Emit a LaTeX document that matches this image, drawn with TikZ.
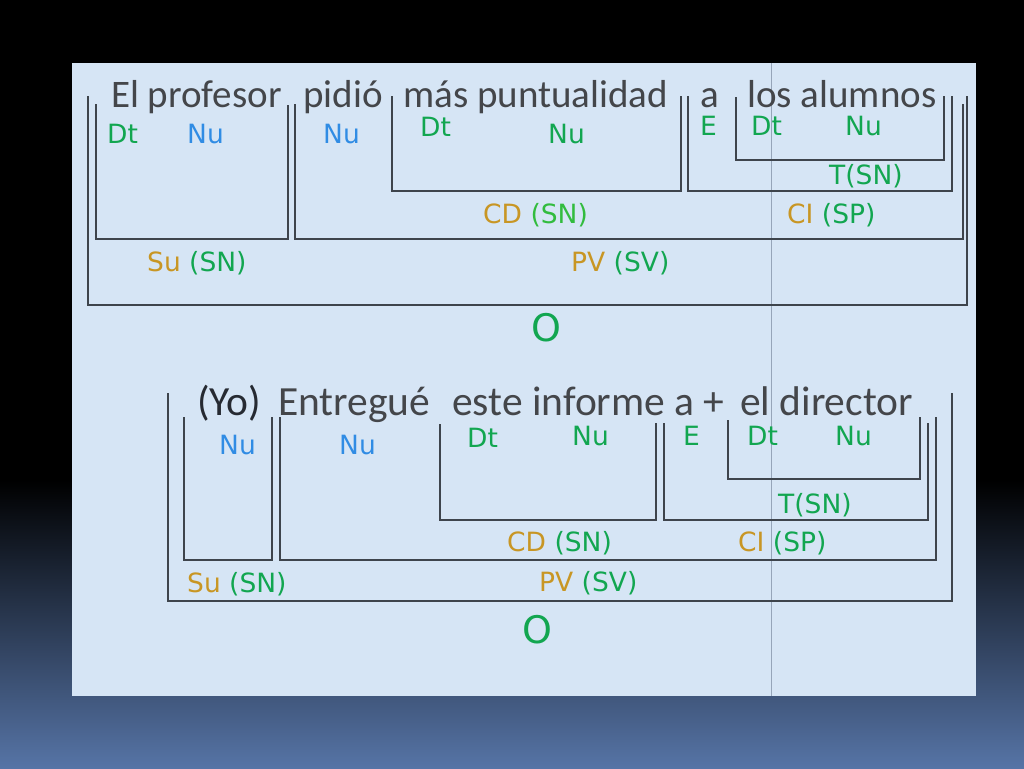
\documentclass[tikz,border=0pt]{standalone}
\usepackage{fontspec}
\setmainfont{Carlito}
\newfontfamily\labfont{DejaVu Sans}
\definecolor{bgblue}{RGB}{86,116,166}
\definecolor{panel}{RGB}{214,229,245}
\definecolor{seam}{RGB}{150,165,185}
\definecolor{brk}{RGB}{62,68,76}
\definecolor{txt}{RGB}{68,70,74}
\definecolor{yo}{RGB}{38,42,50}
\definecolor{lgreen}{RGB}{18,166,80}
\definecolor{lgreenb}{RGB}{50,188,62}
\definecolor{lblue}{RGB}{48,140,228}
\definecolor{lgold}{RGB}{200,150,36}
\tikzset{
  x=1pt,y=-1pt,
  brkline/.style={draw=brk,line width=1.6pt,line join=miter},
  word/.style={anchor=base west,inner sep=0pt,text=txt,font=\fontsize{39}{41}\selectfont},
  wordb/.style={anchor=base west,inner sep=0pt,text=txt,font=\fontsize{41.5}{43}\selectfont},
  flat/.style={text depth=0pt},
  lab/.style={anchor=base west,inner sep=0pt,font=\labfont\fontsize{26.5}{28}\selectfont},
  bigo/.style={anchor=base,inner sep=0pt,text=lgreen,font=\labfont\fontsize{38}{40}\selectfont}
}
\begin{document}
\begin{tikzpicture}
\useasboundingbox (0,0) rectangle (1024,768);
% background
\fill[black] (0,0) rectangle (1024,768);
\shade[top color=black,bottom color=bgblue] (0,480) rectangle (1024,768);
\fill[panel] (72,63) rectangle (976,696);
\draw[seam,line width=0.8pt] (771,63) -- (771,696);

% ===== top sentence =====
\node[word] (w1) at (111,107) {El profesor};
\node[word] (w2) at (303,107) {pidió};
\node[word] (w3) at (403,107) {más puntualidad};
\node[word,flat] (w4) at (700,107) {a};
\node[word,flat] (w5) at (747,107) {los alumnos};

\draw[brkline] (88,96) -- (88,305) -- (967,305) -- (967,96);
\draw[brkline] (96,104) -- (96,239) -- (288,239) -- (288,105);
\draw[brkline] (295,104) -- (295,239) -- (963,239) -- (963,104);
\draw[brkline] (392,96) -- (392,191) -- (681,191) -- (681,96);
\draw[brkline] (688,96) -- (688,191) -- (952,191) -- (952,96);
\draw[brkline] (736,97) -- (736,160) -- (944,160) -- (944,96);

\node[lab,text=lgreen] (a1) at (107,143) {Dt};
\node[lab,text=lblue]  (a2) at (187,143) {Nu};
\node[lab,text=lblue]  (a3) at (323,143) {Nu};
\node[lab,text=lgreen] (a4) at (420,136) {Dt};
\node[lab,text=lgreen] (a5) at (548,143) {Nu};
\node[lab,text=lgreen,text height=19pt] (a6) at (700,135) {E};
\node[lab,text=lgreen,text height=19pt] (a7) at (751,135) {Dt};
\node[lab,text=lgreen,text height=19pt] (a8) at (845,135) {Nu};
\node[lab,text=lgreen] (a9) at (829,184) {T(SN)};
\node[lab] (a10) at (483,223) {\textcolor{lgold}{CD} \textcolor{lgreenb}{(SN)}};
\node[lab] (a11) at (787,223) {\textcolor{lgold}{CI} \textcolor{lgreen}{(SP)}};
\node[lab] (a12) at (147,271) {\textcolor{lgold}{Su} \textcolor{lgreen}{(SN)}};
\node[lab] (a13) at (571,271) {\textcolor{lgold}{PV} \textcolor{lgreen}{(SV)}};
\node[bigo] (o1) at (546,341) {O};

% ===== bottom sentence =====
\node[wordb,text=yo] (v1) at (197,415) {(Yo)};
\node[wordb] (v2) at (278,415) {Entregué};
\node[wordb,flat] (v3) at (452,415) {este informe a +};
\node[wordb,flat] (v4) at (740,415) {el director};

\draw[brkline] (168,393) -- (168,601) -- (952,601) -- (952,393);
\draw[brkline] (184,417) -- (184,560) -- (272,560) -- (272,417);
\draw[brkline] (280,417) -- (280,560) -- (936,560) -- (936,417);
\draw[brkline] (440,424) -- (440,520) -- (656,520) -- (656,423);
\draw[brkline] (664,423) -- (664,520) -- (928,520) -- (928,423);
\draw[brkline] (728,420) -- (728,479) -- (920,479) -- (920,417);

\node[lab,text=lblue]  (b1) at (219,454) {Nu};
\node[lab,text=lblue]  (b2) at (339,454) {Nu};
\node[lab,text=lgreen] (b3) at (467,447) {Dt};
\node[lab,text=lgreen] (b4) at (572,445) {Nu};
\node[lab,text=lgreen] (b5) at (683,445) {E};
\node[lab,text=lgreen] (b6) at (747,445) {Dt};
\node[lab,text=lgreen] (b7) at (835,445) {Nu};
\node[lab,text=lgreen] (b8) at (778,513) {T(SN)};
\node[lab] (b9) at (507,551) {\textcolor{lgold}{CD} \textcolor{lgreen}{(SN)}};
\node[lab] (b10) at (738,551) {\textcolor{lgold}{CI} \textcolor{lgreen}{(SP)}};
\node[lab] (b11) at (187,592) {\textcolor{lgold}{Su} \textcolor{lgreen}{(SN)}};
\node[lab] (b12) at (539,591) {\textcolor{lgold}{PV} \textcolor{lgreen}{(SV)}};
\node[bigo] (o2) at (537,643) {O};
\end{tikzpicture}
\end{document}
